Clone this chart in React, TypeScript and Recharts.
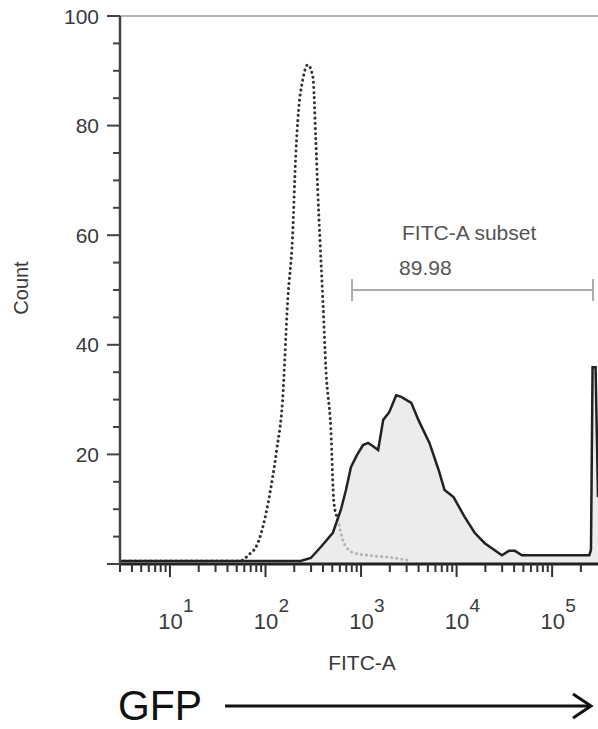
import React from "react";
import { ComposedChart, Area, XAxis, YAxis, ReferenceLine } from "recharts";

// Unstained control (dotted) histogram
const controlFitc = [3, 54, 66, 84, 108, 131, 151, 171, 192, 207, 222, 245, 277, 313, 336, 352, 370, 398, 429, 483, 520, 573, 662, 843, 1186, 2223, 3357];
const controlCount = [0.55, 0.55, 1.6, 4.0, 11.7, 20.8, 29.9, 48.2, 59.7, 74.3, 82.8, 88.3, 91.1, 88.9, 77.4, 68.2, 59.7, 48.2, 35.4, 24.5, 11.1, 8.0, 3.8, 2.0, 1.6, 1.1, 0.55];

// GFP sample (filled) histogram
const gfpFitc = [3, 233, 298, 379, 507, 615, 695, 785, 908, 1050, 1186, 1337, 1510, 1706, 1972, 2333, 2636, 3357, 3981, 5200, 6471, 7482, 9290, 12130, 15450, 19720, 29790, 35240, 40830, 48310, 244900, 255000, 265000, 285000, 302000];
const gfpCount = [0.55, 0.55, 1.1, 3.1, 5.7, 9.9, 13.5, 17.7, 19.9, 21.7, 22.1, 21.5, 20.8, 26.3, 27.7, 30.8, 30.5, 29.4, 26.3, 22.1, 17.2, 13.5, 12.2, 8.6, 5.7, 3.8, 1.6, 2.4, 2.4, 1.6, 1.6, 2.6, 35.9, 35.9, 12.2];

// Gate
const gateFrom = 805;
const gateTo = 268000;
const gateCount = 50;
const gateName = "FITC-A subset";
const gateValue = "89.98";

// Axes
const xDomain = [3, 302000];
const xTicks = [
  3, 4, 5, 6, 7, 8, 9,
  10, 20, 30, 40, 50, 60, 70, 80, 90,
  100, 200, 300, 400, 500, 600, 700, 800, 900,
  1000, 2000, 3000, 4000, 5000, 6000, 7000, 8000, 9000,
  10000, 20000, 30000, 40000, 50000, 60000, 70000, 80000, 90000,
  100000, 200000,
];
const yTicks = [0, 5, 10, 15, 20, 25, 30, 35, 40, 45, 50, 55, 60, 65, 70, 75, 80, 85, 90, 95, 100];
const yLabelTicks = [20, 40, 60, 80, 100];

const controlData = controlFitc.map((x, i) => ({ x, control: controlCount[i] }));
const gfpData = gfpFitc.map((x, i) => ({ x, gfp: gfpCount[i] }));

const FONT = "'Liberation Sans', Arial, Helvetica, sans-serif";

const XTick = (props: any) => {
  const { x, y, payload } = props;
  const v = payload.value;
  const e = Math.log10(v);
  const major = Math.abs(e - Math.round(e)) < 1e-6;
  return (
    <g>
      <line x1={x} x2={x} y1={y} y2={y + (major ? 13 : 8)} stroke="#333" strokeWidth={2} />
      {major && (
        <>
          <text x={x + 0.5} y={y + 65} textAnchor="middle" fontSize={22} fill="#3a3a3a" fontFamily={FONT}>10</text>
          <text x={x + 13} y={y + 48} textAnchor="start" fontSize={19} fill="#3a3a3a" fontFamily={FONT}>{String(Math.round(e))}</text>
        </>
      )}
    </g>
  );
};

const YTick = (props: any) => {
  const { x, y, payload } = props;
  const v = payload.value;
  const major = v % 20 === 0;
  return (
    <g>
      <line x1={x - (major ? 13 : 7)} x2={x} y1={y} y2={y} stroke="#444" strokeWidth={2} />
      {yLabelTicks.includes(v) && (
        <text x={x - 21} y={y} dy="0.36em" textAnchor="end" fontSize={21} fill="#3a3a3a" fontFamily={FONT}>{v}</text>
      )}
    </g>
  );
};

const GateLabel = (props: any) => {
  const vb = props.viewBox || {};
  const x = vb.x ?? 0;
  const y = vb.y ?? 0;
  return (
    <g>
      <text x={x + 50} y={y - 50} fontSize={21} fill="#555" fontFamily={FONT}>{gateName}</text>
      <text x={x + 47} y={y - 15} fontSize={21} fill="#555" fontFamily={FONT}>{gateValue}</text>
    </g>
  );
};

export default function App() {
  return (
    <div style={{ position: "absolute", left: 0, top: 0, width: 598, height: 729, background: "#fff" }}>
      <ComposedChart width={598} height={729} margin={{ top: 16, right: 0, bottom: 0, left: 0 }}>
        <XAxis
          type="number"
          dataKey="x"
          scale="log"
          domain={xDomain}
          allowDataOverflow
          ticks={xTicks}
          interval={0}
          tick={<XTick />}
          tickLine={false}
          tickSize={0}
          tickMargin={0}
          height={165}
          axisLine={{ stroke: "#222", strokeWidth: 3 }}
        />
        <YAxis
          type="number"
          domain={[0, 100]}
          ticks={yTicks}
          interval={0}
          tick={<YTick />}
          tickLine={false}
          tickSize={0}
          tickMargin={0}
          width={120}
          axisLine={{ stroke: "#444", strokeWidth: 2.5 }}
        />
        <ReferenceLine y={100} stroke="#b5b5b5" strokeWidth={2} />
        <Area
          data={controlData}
          dataKey="control"
          type="monotone"
          stroke="#333"
          strokeWidth={3}
          strokeDasharray="0.1 5"
          strokeLinecap="round"
          fill="none"
          dot={false}
          isAnimationActive={false}
        />
        <Area
          data={gfpData}
          dataKey="gfp"
          type="linear"
          stroke="#222"
          strokeWidth={2.5}
          fill="#e4e4e4"
          fillOpacity={0.72}
          dot={false}
          isAnimationActive={false}
        />
        <ReferenceLine
          segment={[{ x: gateFrom, y: gateCount }, { x: gateTo, y: gateCount }]}
          stroke="#aaa"
          strokeWidth={2}
          label={(p: any) => <GateLabel {...p} />}
        />
        <ReferenceLine segment={[{ x: gateFrom, y: gateCount - 2 }, { x: gateFrom, y: gateCount + 2 }]} stroke="#aaa" strokeWidth={2} />
        <ReferenceLine segment={[{ x: gateTo, y: gateCount - 2 }, { x: gateTo, y: gateCount + 2 }]} stroke="#aaa" strokeWidth={2} />
      </ComposedChart>
      <svg width={598} height={729} style={{ position: "absolute", left: 0, top: 0, pointerEvents: "none" }}>
        <text x={28} y={288} transform="rotate(-90 28 288)" textAnchor="middle" fontSize={20} fill="#3a3a3a" fontFamily={FONT}>Count</text>
        <text x={362} y={670} textAnchor="middle" fontSize={21} fill="#3a3a3a" fontFamily={FONT}>FITC-A</text>
        <text x={118} y={720} fontSize={43} textLength={84} lengthAdjust="spacingAndGlyphs" fill="#111" fontFamily={FONT}>GFP</text>
        <line x1={225} y1={706} x2={590} y2={706} stroke="#111" strokeWidth={3} />
        <polyline points="573,694 591,706 573,718" fill="none" stroke="#111" strokeWidth={3} />
      </svg>
    </div>
  );
}
